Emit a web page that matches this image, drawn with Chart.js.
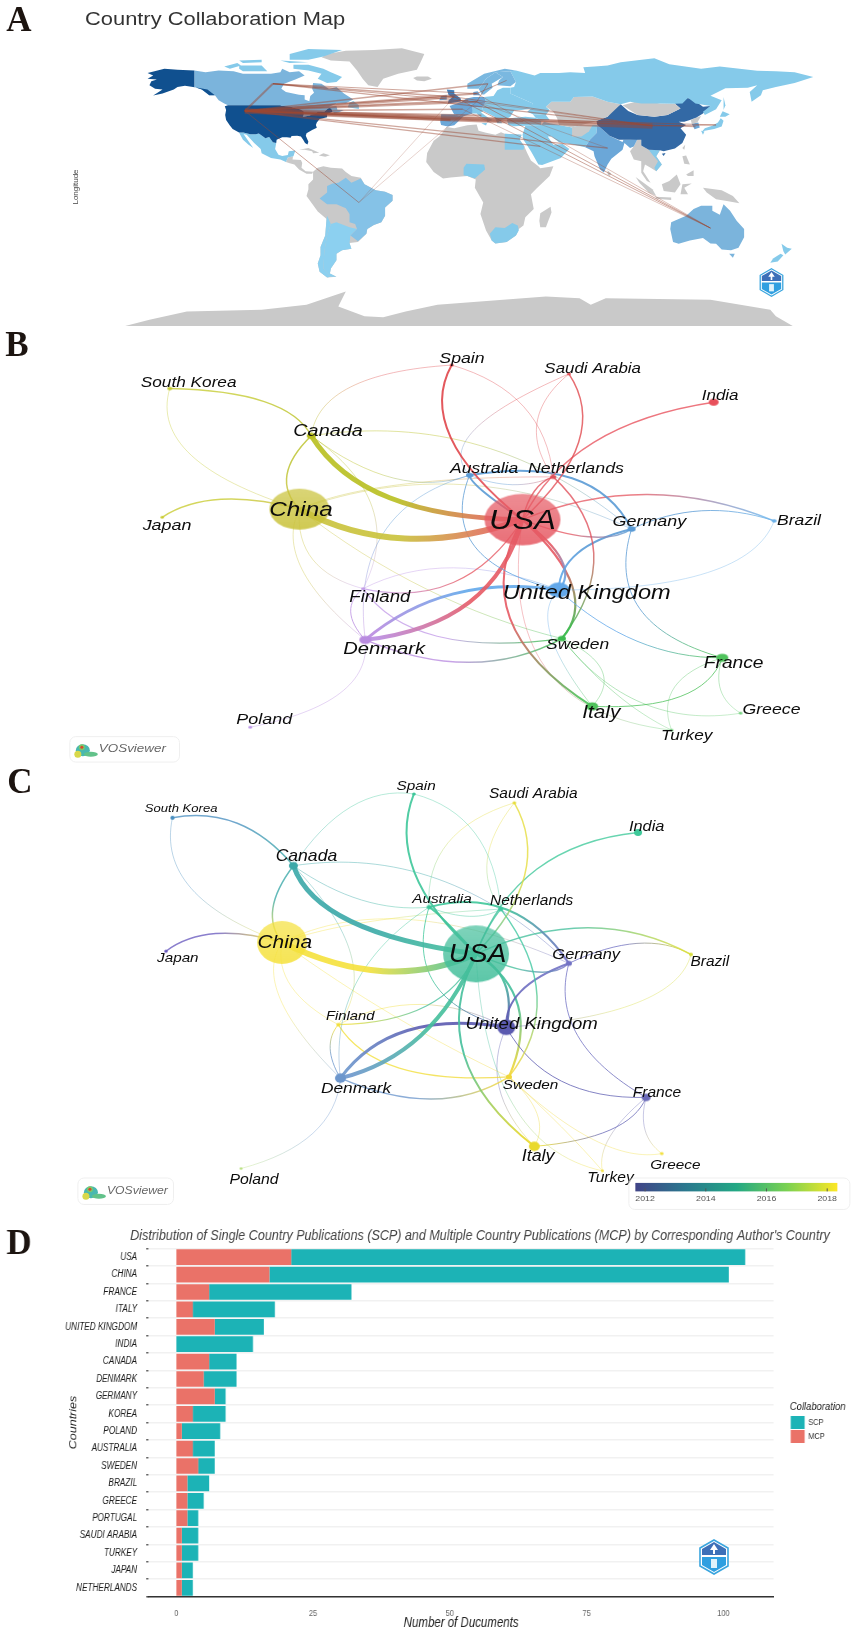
<!DOCTYPE html>
<html>
<head>
<meta charset="utf-8">
<title>Country collaboration figure</title>
<script src="https://cdn.jsdelivr.net/npm/chart.js@4/dist/chart.umd.min.js"></script>
<style>
  html, body { margin:0; padding:0; background:#fff; }
  #page { position:relative; width:851px; height:1646px; overflow:hidden; }
  #page canvas, #page svg { position:absolute; left:0; }
  /* panel D of the source is squeezed sideways: draw wider, then compress */
  #barChart { transform:scaleX(.82); transform-origin:0 0; }
</style>
</head>
<body>
<div id="page">
  <canvas id="mapChart" width="851" height="326" style="top:0px"></canvas>
  <canvas id="netB" width="851" height="450" style="top:320px"></canvas>
  <canvas id="netC" width="851" height="475" style="top:740px"></canvas>
  <canvas id="barChart" width="1038" height="431" style="top:1215px"></canvas>
  <svg style="left:757px;top:268px" width="29" height="29" viewBox="0 0 30 36"><use href="#seal"/></svg>
  <svg style="left:698px;top:1539px" width="32" height="36" viewBox="0 0 30 36">
    <defs><g id="seal">
      <polygon points="15,1 29,9 29,27 15,35 1,27 1,9" fill="#fff" stroke="#3aa5de" stroke-width="1.6"/>
      <polygon points="15,3 27,10 27,16 3,16 3,10" fill="#3d70b8"/>
      <polygon points="3,18 27,18 27,26 15,33 3,26" fill="#2f9fe0"/>
      <polygon points="15,5 19,11 16,11 16,15 14,15 14,11 11,11" fill="#fff"/>
      <rect x="12" y="20" width="6" height="9" fill="#dff2fb"/>
    </g></defs>
    <use href="#seal"/>
  </svg>
</div>

<script>
// --- panel D: documents per corresponding author country ---
const countries = ['USA','CHINA','FRANCE','ITALY','UNITED KINGDOM','INDIA','CANADA','DENMARK','GERMANY','KOREA','POLAND','AUSTRALIA','SWEDEN','BRAZIL','GREECE','PORTUGAL','SAUDI ARABIA','TURKEY','JAPAN','NETHERLANDS'];
const mcpDocs = [21,17,6,3,7,0,6,5,7,3,1,3,4,2,2,2,1,1,1,1];
const scpDocs = [83,84,26,15,9,14,5,6,2,6,7,4,3,4,3,2,3,3,2,2];
const docTicks = [0,25,50,75,100];

// --- panels B and C: network layout (VOSviewer map units) ---
const nodeNames = ['USA','China','Canada','South Korea','Japan','Spain','Saudi Arabia','India','Australia','Netherlands','Germany','Brazil','United Kingdom','Finland','Denmark','Sweden','France','Italy','Greece','Turkey','Poland'];
const bNodeX = [958,545,567,305,291,827,1044,1312,860,1015,1160,1424,1025,663,667,1031,1328,1087,1362,1234,454];
const bNodeY = [597,565,340,195,590,123,150,237,461,466,626,601,813,809,966,962,1021,1170,1191,1243,1234];
const bNodeSize = [38,30,4.5,2.5,1.8,2,2,5,3.5,3,4,2.5,11,2,6,4,6,6,1.8,1.8,2];
const cNodeX = [872,513,534,310,298,757,943,1172,785,918,1044,1270,928,617,621,933,1187,980,1216,1106,437];
const cNodeY = [640,605,370,223,632,150,177,268,497,503,669,642,865,857,1021,1017,1080,1230,1252,1305,1298];
const cNodeSize = [33,25,4.5,2.2,1.8,1.8,1.8,4,2.5,2.5,3,2,9,2,5.5,3,4.5,5.5,1.8,1.5,1.5];
const bClusterColors = ['#e65a64','#c9c23a','#b8bf20','#c5cb30','#c8cb30','#e0464b','#e0464b','#e8505b','#5b9bd5','#e0505b','#5b9bd5','#6db1e8','#62a8ea','#c39ce8','#b98be0','#3dbb4f','#4fc25c','#4fc25c','#6fd07a','#6fd07a','#b890e6'];
const cYearColors = ['#45bf9c','#f5e13c','#3aa8a8','#4a8fc0','#6a5bbf','#3ec79a','#e5dc3a','#3ec99a','#3ec79a','#3ec7a0','#7272c4','#d6dc3a','#5b5ab0','#f2df3a','#6c96cc','#f0d73a','#6a6ab8','#e9d92c','#f2e040','#f2e040','#b8e080'];

// links: pair + strength, then one point on each curve per panel
const linkPairs = [
  ['China','USA',6],['Canada','USA',5],['Canada','China',1.5],['South Korea','Canada',1.5],['South Korea','China',.7],
  ['Japan','China',1.5],['Spain','USA',2],['Spain','Canada',.7],['Spain','Netherlands',.7],['Saudi Arabia','USA',1.5],
  ['Saudi Arabia','Netherlands',.7],['Saudi Arabia','Australia',.7],['India','USA',1.5],['Australia','USA',2],['Australia','Germany',2],
  ['Australia','Netherlands',.8],['Australia','United Kingdom',1],['Australia','Denmark',.8],['Netherlands','USA',1.5],['Netherlands','Sweden',1.5],
  ['USA','Germany',1.5],['USA','Brazil',1.5],['Germany','Brazil',1],['Brazil','United Kingdom',.7],['Germany','United Kingdom',2],
  ['Germany','France',1],['United Kingdom','France',1],['USA','United Kingdom',2.2],['USA','Sweden',2.2],['USA','Italy',2],
  ['USA','Denmark',4],['United Kingdom','Denmark',3],['USA','Finland',1.2],['Finland','United Kingdom',.8],['Finland','Sweden',1.2],
  ['Denmark','Finland',1],['Denmark','Sweden',1.5],['Denmark','Poland',.7],['China','Finland',.7],['China','Denmark',.7],
  ['China','Sweden',.7],['China','Germany',.7],['China','Netherlands',.7],['Canada','Finland',.7],['Canada','Germany',.8],
  ['Canada','Australia',.8],['Sweden','Italy',.7],['Sweden','Turkey',.7],['USA','Turkey',.7],['Sweden','Greece',.7],
  ['France','Italy',1],['France','Turkey',.7],['France','Greece',.7],['United Kingdom','Italy',.7]
];
const bLinkCurve = [[740,655],[712,530],[522,460],[480,235],[345,400],[400,535],[825,345],[640,190],[960,250],[1062,360],[985,300],[870,320],[1090,360],[885,510],[1050,470],[940,490],[870,680],[700,640],[980,510],[1090,700],[1080,650],[1190,520],[1290,570],[1300,760],[1060,700],[1175,870],[1170,970],[1030,720],[1050,800],[935,900],[860,850],[830,825],[830,790],[830,745],[800,955],[640,880],[860,1035],[620,1130],[570,720],[550,750],[780,810],[850,490],[730,490],[680,560],[880,370],[720,470],[1105,1060],[1130,1130],[1000,1050],[1180,1160],[1250,1140],[1240,1110],[1325,1120],[1010,950]];
const cLinkCurve = [[700,693],[640,540],[496,500],[430,240],[345,440],[390,578],[758,390],[640,190],[870,270],[962,400],[893,350],[820,300],[985,380],[815,540],[930,505],[860,525],[795,730],[650,730],[895,560],[985,770],[980,695],[1080,560],[1170,608],[1170,790],[955,755],[1060,890],[1030,1030],[925,730],[950,800],[850,950],[770,890],[745,875],[780,800],[770,795],[730,990],[602,930],[790,1085],[570,1190],[530,740],[510,780],[720,830],[750,535],[680,540],[640,640],[800,410],[660,475],[985,1130],[1030,1170],[940,1100],[1090,1210],[1120,1180],[1120,1200],[1185,1180],[915,1050]];

const bLabelX = [958,548,598,340,300,846,1088,1324,887,1057,1193,1470,1077,694,702,1060,1349,1104,1419,1262,480];
const bLabelY = [603,567,325,177,617,104,134,219,441,442,605,602,824,836,995,982,1039,1190,1181,1262,1210];
const bLabelFont = [27.5,20.6,16.8,14.6,15.2,15,14.3,14.4,14.9,15.1,15.2,14.9,20,15.8,17.1,14.8,16.3,17.6,15,14.6,15.2];
const cLabelX = [875,518,558,326,320,761,978,1188,809,975,1076,1305,975,639,650,973,1207,987,1241,1121,461];
const cLabelY = [645,607,343,195,653,125,151,251,473,480,643,667,857,830,1052,1044,1066,1260,1288,1328,1332];
const cLabelFont = [25,18.7,15.7,11.7,13.6,13.7,13.8,14.6,13.7,13.8,14.7,13.8,16.6,13.2,15.5,13.7,13.9,16,13.7,13.9,14.1];
const yearTicks = [2012,2014,2016,2018];

// --- panel A: collaboration map, lon/lat ---
const collabNames = ['USA','Canada','Brazil','Australia','China','Japan','Korea','Saudi','India','UK','Germany','France','Spain','Italy','Sweden','Finland','Denmark','Netherlands','Greece','Turkey'];
const collabLon = [-114,-99,-53,135,104,138,127,44,80,-2,10,2.5,-4,12.5,16,26,10,5.5,22,35];
const collabLat = [45.5,62,-10,-25.5,36.4,37,36,24,23,54,51,46.5,40,42.8,62,64,56,52,39,39];
const collabLinks = [['USA','China',5.5],['USA','UK',2.5],['USA','Germany',2],['USA','Canada',2],['USA','France',1.5],['USA','Spain',2.5],['USA','Italy',2],['USA','Denmark',2],['USA','Sweden',1.5],['USA','Saudi',1.2],['USA','Greece',1],['USA','India',1.2],['USA','Turkey',1],['USA','Brazil',1],['USA','Netherlands',1.5],['USA','Japan',1],['USA','Korea',1.2],['Germany','Australia',1],['UK','Australia',1],['Denmark','Australia',.7],['France','Australia',.7],['Canada','UK',1.5],['Canada','Germany',1],['Canada','Denmark',1],['Canada','China',1.2],['China','UK',1],['China','Germany',.7],['China','Japan',1],['Brazil','UK',.5],['Brazil','Germany',.5],['Germany','India',.6],['Finland','Denmark',1],['Germany','Sweden',1]];

const greenland = [[-73,78],[-68,76],[-58,75.5],[-54,70],[-51,65],[-48,61],[-43,60],[-40,65],[-32,68],[-22,70.5],[-20,75],[-18,80],[-30,83.5],[-45,82.5],[-60,82],[-70,80]];
const iceland = [[-24,65.5],[-22,64],[-18,63.5],[-14,65],[-16,66.4],[-22,66.3]];
const usa48 = [[-124.7,48.4],[-123,49],[-95,49],[-94.6,48.7],[-92,48.3],[-89.5,48],[-88,47.5],[-84.5,46.5],[-82.5,45.3],[-82.5,43],[-83,42],[-79,42.8],[-79,43.3],[-76.5,43.6],[-75,45],[-71.5,45],[-70,46.5],[-69,47.3],[-67.8,47],[-67,45],[-70,43.7],[-70,41.7],[-74,40.6],[-75.5,38.5],[-76,36.9],[-75.5,35.3],[-78,33.9],[-81,32],[-81.4,30.5],[-80,26.8],[-80.5,25.2],[-81.8,26],[-82.8,28],[-84,30],[-86,30.4],[-89,30.3],[-89.5,29.2],[-91.5,29.5],[-94,29.6],[-97,28],[-97.2,26],[-99,26.5],[-101,29.7],[-103,29],[-104.8,30.5],[-106.5,31.8],[-108.2,31.4],[-111,31.3],[-114.8,32.5],[-117.1,32.5],[-120.5,34.5],[-122,36.6],[-124,40],[-124.5,43],[-124,46]];
const alaska = [[-141,70],[-141,60],[-137,58.5],[-133,55],[-130,55],[-134,58.5],[-140,59.7],[-146,60.8],[-150,60],[-152,58.5],[-158,56],[-163,54.8],[-158,58.5],[-162,59],[-165,61],[-164,63.5],[-161,64.5],[-166,65],[-163,67],[-166,68.5],[-157,71],[-150,70.5]];
const canada = [[-141,70],[-135,69],[-128,70],[-120,69.5],[-115,68],[-108,68],[-100,68],[-95,69],[-94,71],[-90,69],[-85,69.5],[-82,67],[-87,64.5],[-93,62],[-94.5,59],[-92,57],[-85,55.3],[-82,55],[-82,52.5],[-79.5,51.3],[-79,54.5],[-77,56.5],[-78,59],[-77.5,62.4],[-73,62],[-69,58.8],[-65,60],[-61,56],[-56,52.5],[-60,50.2],[-65,50],[-69,48],[-65,48.5],[-64.5,46.2],[-61,46],[-64,44.5],[-66,44],[-67,45],[-67.8,47],[-69,47.3],[-70,46.5],[-71.5,45],[-75,45],[-76.5,43.6],[-79,43.3],[-79,42.8],[-83,42],[-82.5,43],[-82.5,45.3],[-84.5,46.5],[-88,47.5],[-89.5,48],[-92,48.3],[-94.6,48.7],[-95,49],[-123,49],[-125,50],[-128,52],[-130,55],[-133,55],[-137,58.5],[-141,60]];
const baffin = [[-80,73.5],[-72,71],[-68,69],[-62,66],[-65,63],[-70,62.5],[-75,65],[-73,68],[-80,70],[-88,71],[-88,73.5]];
const victoriaIs = [[-117,73],[-105,73],[-102,69.5],[-115,69.5],[-117,71]];
const ellesmere = [[-90,80],[-80,83],[-62,82.5],[-72,78.5],[-80,76.5],[-90,76.5]];
const banksIs = [[-125,72.5],[-118,74.5],[-116,73],[-122,71]];
const devonIs = [[-95,76],[-80,75],[-90,74.5]];
const melvilleIs = [[-117,76],[-105,76.5],[-105,75],[-115,74.6]];
const newfoundland = [[-59,47.7],[-53,46.7],[-53,49],[-56,51.5],[-58,50.5]];
const mexico = [[-117.1,32.5],[-114.8,32.5],[-111,31.3],[-108.2,31.4],[-106.5,31.8],[-104.8,30.5],[-103,29],[-101,29.7],[-99,26.5],[-97.2,26],[-97.8,22.5],[-96,19],[-94,18.2],[-91,18.8],[-90.5,21],[-87,21.5],[-88,18],[-91,17.2],[-92,14.6],[-95,16],[-100,17],[-105,19.8],[-105.5,22.5],[-109,26],[-113,31],[-114.7,31.5],[-109.5,23],[-112,25],[-115,28]];
const centralAmerica = [[-92,14.6],[-91,17.2],[-88.2,18],[-88.5,16],[-84,15.8],[-83.3,14],[-83.7,11],[-81.5,9],[-77.5,8.6],[-78,7.5],[-81,7.5],[-85,10],[-87.5,13],[-90,13.8]];
const cuba = [[-85,22],[-80,23],[-74.2,20.2],[-77.5,19.9],[-78,21],[-82,22]];
const hispaniola = [[-74.4,18.5],[-72,19.9],[-68.5,18.6],[-71,17.8]];
const southAmerica = [[-77.5,8.6],[-75,11],[-72,12],[-68,11],[-62,10.6],[-60,8.5],[-57,6],[-52,5],[-50,1],[-44,-2.5],[-39,-3.5],[-35,-5.5],[-35,-9],[-39,-13],[-39,-18],[-41,-22],[-45,-23.6],[-48.5,-26],[-49,-29],[-53.5,-34],[-58,-34.5],[-57,-38],[-62,-39],[-65,-41],[-65,-45],[-68,-50],[-68.5,-53],[-65,-55],[-70,-55.5],[-74,-52],[-75,-47],[-73.5,-42],[-73.5,-37],[-71,-30],[-70.3,-20],[-75,-15.5],[-81,-6],[-80,-2],[-80,1],[-77.5,4],[-77.5,7]];
const brazil = [[-60,5],[-57,2],[-52,4.5],[-50,1],[-44,-2.5],[-39,-3.5],[-35,-5.5],[-35,-9],[-39,-13],[-39,-18],[-41,-22],[-45,-23.6],[-48.5,-26],[-49,-29],[-53.5,-33.5],[-57.5,-30],[-54,-26],[-55,-23],[-58,-22],[-58,-17],[-60,-13.5],[-65,-11],[-70,-11],[-74,-7.5],[-70,-4],[-70,0],[-67,1.5],[-64,2]];
const argentina = [[-65,-22],[-58,-25],[-54,-26],[-57.5,-30],[-58,-34.5],[-57,-38],[-62,-39],[-65,-41],[-65,-45],[-68,-50],[-68.5,-53],[-65,-55],[-68,-55],[-72,-50],[-71.5,-40],[-70,-30],[-68,-23]];
const chile = [[-70,-18],[-68,-23],[-70,-30],[-71.5,-40],[-72,-50],[-68,-55],[-70,-55.5],[-74,-52],[-75,-47],[-73.5,-42],[-73.5,-37],[-71,-30],[-70.3,-20]];
const africa = [[-6,35.8],[-2,35],[5,36.8],[10,37.3],[11,33.5],[15,32.3],[20,31],[23,32.6],[25,31.6],[32,31.2],[34,31],[33,28],[35.5,24],[37,20],[39,15.5],[43,12],[44,10.7],[51,12],[49,6],[42,-1.5],[39,-5],[40.5,-14],[36,-19],[35,-24],[32.5,-26],[31,-30],[26,-34],[20,-34.8],[18,-33],[15,-27],[12,-17],[13.5,-10],[9,-1],[9.5,4],[5,6],[-4,5.2],[-8,4.5],[-13,8.5],[-17,14.5],[-16.5,20],[-13,27.5],[-10,30]];
const egypt = [[25,31.6],[32,31.2],[34,31],[33,28],[35.5,24],[35,22],[25,22]];
const nigeria = [[3,6.5],[3,11],[4.5,13.5],[14,13],[14.5,10],[9,4.5],[5,6]];
const southAfrica = [[17,-29],[20,-25],[25,-25.5],[29,-22.5],[32,-24],[32.5,-27],[31,-30],[26,-34],[20,-34.8],[18,-33]];
const madagascar = [[44,-16.5],[49.5,-12.5],[50,-16],[47,-25],[44,-25],[43.5,-21]];
const spain = [[-9,43.5],[-2,43.4],[3,42.3],[0,39],[-2,36.8],[-5.5,36],[-9,37],[-9.5,39]];
const france = [[-4.5,48.5],[2,51],[8,49],[7.5,44],[3,42.3],[-2,43.4]];
const britain = [[-5.5,50],[1.5,51.2],[1.5,53],[-2,56],[-2,58],[-6,58.5],[-5,55],[-3,54],[-5,52]];
const ireland = [[-10,52],[-6,52.2],[-6,55],[-9,54.5]];
const germany = [[2,51],[4.5,53],[8.5,54],[14,54],[15,51],[13,47.7],[8,47.7],[8,49]];
const denmark = [[8.2,55],[8.2,57],[10.5,57.5],[12,55]];
const norway = [[5,59],[5,62],[14,68],[25,71],[31,70],[28,69.5],[20,69],[15,65],[12.5,61],[11,59]];
const sweden = [[11,59],[12.5,61],[15,65],[20,69],[24,66],[18,62],[18.5,59.5],[14,55.5],[12.8,55.5]];
const finland = [[21,61],[22,64],[24,66],[20,69],[28,69.5],[31,63],[28,60.5]];
const easternEurope = [[14,54],[19,54.5],[21,58],[24,59.5],[28,59.5],[28,56],[40,50],[40,47],[34,46],[30,45.8],[28,42],[26,40.8],[23,40],[23.5,38],[21,38],[19.5,42],[13.5,45.5],[13,47.7],[15,51]];
const italy = [[7,44],[8,47.7],[13,47.7],[13.5,45.5],[12.3,44.5],[16,41.5],[18.5,40],[16,39],[16,38],[15.5,40],[12,42],[10,44]];
const sicily = [[12.5,38],[15.5,38.2],[15,36.7]];
const turkey = [[26,40.5],[29,41.2],[36,42],[41.5,41.3],[44.5,39.5],[44.5,37],[36,36.5],[30,36.2],[27,37]];
const caucasus = [[40,43.5],[47,43],[49,40],[44.5,39.5],[41.5,41.3]];
const russia = [[28,59.5],[30,60],[31,63],[28,69.5],[31,70],[41,67],[44,68.5],[54,68.5],[60,69],[68,68.5],[67,72],[73,72.5],[80,73],[87,75],[105,77.5],[113,73.8],[130,71],[140,72.5],[160,69.8],[170,69.5],[180,69],[190,66],[180,62.5],[170,60],[163,58],[162,55],[157,51],[156,57],[160,61],[155,59.5],[143,59.3],[135,54.7],[141,52],[138,46.5],[132,43],[131,45],[135,48.5],[127,50],[123,53.5],[120,50],[116,49.8],[108,50],[98,50],[92,51],[87,49.5],[80,51],[72,54.3],[62,54],[60,51],[50,51],[47,48],[49,46],[47,43],[40,43.5],[37,45],[39,47],[40,50],[28,56]];
const sakhalin = [[142,54],[143,49],[142,46],[142,50]];
const kazakhstan = [[50,51],[60,51],[62,54],[72,54.3],[80,51],[87,49.5],[80,42],[73,39],[66,37],[61,35.5],[54,37],[53,41],[51,45],[47,48]];
const mongolia = [[88,49],[98,52],[108,50],[116,49.8],[119,47],[112,43],[105,42],[96,43]];
const china = [[74,39.5],[80,42],[82,45.5],[87,49.5],[91,45.5],[96,43],[105,42],[112,43],[119,47],[116,49.8],[120,53.5],[125,53],[131,48],[135,48.5],[131,44],[127.5,41.5],[124,40],[121,39],[118,39],[122,37],[119,35],[122,31],[120,26],[116,22.8],[110,21],[108,21.7],[102,22],[98,24.5],[98,28],[92,28],[86,28],[81,30.5],[78.5,33],[74.5,37]];
const hainan = [[109,19.5],[111,20],[110,18.2]];
const northKorea = [[124.5,40],[127.5,41.5],[130,42.5],[128,38.5],[125,37.8]];
const southKorea = [[125,37.8],[128.5,38.5],[129.3,35.5],[126.5,34.4]];
const honshu = [[130.5,33],[132,35],[136,36.5],[139,38.5],[140.5,41],[142,39.5],[141,36],[137,34.6],[132,33.5]];
const hokkaido = [[140,42],[141.5,45.3],[145.3,43.5],[143,42]];
const kyushu = [[130,33.5],[131.8,33],[131,31]];
const india = [[68,23.5],[70.5,28],[74,32],[74.5,37],[78.5,33],[81,30.5],[88,26.7],[88.5,28],[92,28],[96,28.5],[94,24],[92,23],[89,26],[88,22],[82,16.5],[80,13],[78,8.2],[76,10],[73,18],[72.5,21]];
const middleEast = [[36,36.5],[44.5,37],[46,39],[49,38],[54,37],[61,35.5],[66,37],[74.5,37],[74,32],[70.5,28],[68,23.5],[62,25],[57,26],[54,26.5],[50,30],[48,30],[51,25],[56,25.5],[59.5,22.5],[55,17],[45,12.8],[43,13],[39,21],[35,28],[34.5,31]];
const afghanistan = [[61,35.5],[66,37],[72,37],[70,33],[66,30],[61,30]];
const southeastAsia = [[92,21],[94,24],[96,28.5],[98,28],[98,24.5],[102,22],[108,21.7],[106,18],[109,13],[106,9],[103,11],[100,13],[99,9],[103,2],[101,3],[98,8],[98,15],[94,16]];
const vietnam = [[102,22],[108,21.7],[106,18],[109,13],[106,9],[105,11],[107,15],[104,19]];
const sumatra = [[95,5.5],[104,-2],[106,-6],[102,-4],[97,2]];
const borneo = [[109,1],[113,3],[117,7],[119,1],[116,-4],[110,-3]];
const java = [[105.5,-6.5],[114,-7],[114,-8.5],[106,-7.7]];
const sulawesi = [[119,-5],[120,1],[125,1.5],[121,-1],[123,-5]];
const newGuinea = [[131,-1],[141,-2.5],[147,-6],[150.5,-10.5],[143,-9],[138,-8],[133,-4]];
const luzon = [[120,18],[122,18.5],[124,13],[121,13.5]];
const mindanao = [[122,7],[126,9.5],[126,6],[123,6]];
const taiwan = [[120,23],[121.5,25],[121,22]];
const sriLanka = [[80,9.5],[82,7.5],[81,6],[80,7]];
const australia = [[114,-22],[122,-18],[126,-14],[130,-12],[136,-12],[136,-15],[140,-17.5],[142,-11],[145.5,-15],[149,-21],[153,-26],[153,-31],[150,-37.5],[146,-39],[141,-38.5],[138,-35],[135,-34.8],[131,-31.5],[124,-33],[118,-35],[115,-34],[113.5,-26]];
const tasmania = [[145,-41],[148,-41],[147,-43.5]];
const nzNorth = [[173,-35],[176,-37.5],[178.5,-38],[175,-41.5],[174,-39.5]];
const nzSouth = [[172.5,-41],[174,-42],[171,-45.8],[167,-46.5],[168.5,-44]];
const antarctica = [[-178,-84.8],[-165,-81],[-145,-76],[-105,-75],[-81,-72],[-60,-64],[-64,-73],[-50,-79],[-40,-79.5],[-28,-76],[-11,-72],[47,-67],[65,-68],[71,-72],[79,-68],[135,-69],[167,-75],[170,-79],[179,-84.8]];

const DARK = '#10508f', CHINA_BLUE = '#3369a5', CANADA_BLUE = '#7bb4dc', MID = '#6ba7d8', LIGHT = '#85caea', GRAY = '#c9c9c9';
// earlier entries end up on top
const mapShapes = [
  [britain,'#3f7fbd'],[ireland,MID],[denmark,MID],[germany,MID],[france,MID],[spain,MID],[italy,LIGHT],[sicily,LIGHT],[norway,'#7ab8e0'],[sweden,'#7ab8e0'],[finland,'#7ab8e0'],
  [turkey,LIGHT],[caucasus,LIGHT],[easternEurope,LIGHT],[sakhalin,LIGHT],[russia,LIGHT],[kazakhstan,GRAY],[mongolia,GRAY],
  [hainan,CHINA_BLUE],[china,CHINA_BLUE],[northKorea,GRAY],[southKorea,MID],[honshu,LIGHT],[hokkaido,LIGHT],[kyushu,LIGHT],
  [afghanistan,GRAY],[india,MID],[middleEast,LIGHT],[vietnam,LIGHT],[southeastAsia,GRAY],
  [sumatra,GRAY],[borneo,GRAY],[java,GRAY],[sulawesi,GRAY],[newGuinea,GRAY],[luzon,GRAY],[mindanao,GRAY],[taiwan,GRAY],[sriLanka,GRAY],
  [australia,CANADA_BLUE],[tasmania,CANADA_BLUE],[nzNorth,LIGHT],[nzSouth,LIGHT],
  [usa48,DARK],[alaska,DARK],[canada,CANADA_BLUE],[baffin,LIGHT],[victoriaIs,LIGHT],[ellesmere,LIGHT],[banksIs,LIGHT],[devonIs,LIGHT],[melvilleIs,LIGHT],[newfoundland,LIGHT],
  [mexico,LIGHT],[centralAmerica,GRAY],[cuba,GRAY],[hispaniola,GRAY],[greenland,GRAY],[iceland,GRAY],
  [brazil,'#85c2e7'],[argentina,'#8cd0f0'],[chile,'#8cd0f0'],[southAmerica,GRAY],
  [egypt,LIGHT],[nigeria,LIGHT],[southAfrica,LIGHT],[africa,GRAY],[madagascar,GRAY],[antarctica,GRAY]
];

// --- helpers ---
function toPoints(pairs){ return pairs.map(p => ({x:p[0], y:p[1]})); }

// the source figure is stretched sideways, so text needs a horizontal scale too
function drawText(ctx, str, x, y, font, color, stretch, align){
  ctx.save();
  ctx.translate(x, y);
  ctx.scale(stretch || 1, 1);
  ctx.font = font;
  ctx.fillStyle = color;
  ctx.textAlign = align || 'center';
  ctx.textBaseline = 'middle';
  ctx.fillText(str, 0, 0);
  ctx.restore();
}

function panelLetter(ctx, letter, x, y, stretch){
  drawText(ctx, letter, x, y, 'bold 35px "Liberation Serif"', '#1c1410', stretch || 1);
}

function nodeSprite(color, rx, ry){
  const c = document.createElement('canvas');
  c.width = Math.ceil(rx*2+2); c.height = Math.ceil(ry*2+2);
  const g = c.getContext('2d');
  const grad = g.createLinearGradient(0, 0, 0, c.height);
  grad.addColorStop(0, color + (rx > 15 ? 'b0' : 'ff'));
  grad.addColorStop(1, color + (rx > 15 ? 'e0' : 'ff'));
  g.fillStyle = grad;
  g.beginPath();
  g.ellipse(c.width/2, c.height/2, rx, ry, 0, 0, Math.PI*2);
  g.fill();
  return c;
}

function linkColor(fromColor, toColor, a, b, weight){
  const alpha = weight <= .8 ? '88' : weight <= 1.5 ? 'c8' : 'e6';
  return function(ctx){
    const chart = ctx.chart;
    if(!chart.chartArea) return fromColor + alpha;
    const X = chart.scales.x, Y = chart.scales.y;
    const g = chart.ctx.createLinearGradient(X.getPixelForValue(a.x), Y.getPixelForValue(a.y), X.getPixelForValue(b.x), Y.getPixelForValue(b.y));
    g.addColorStop(.45, fromColor + alpha);
    g.addColorStop(.95, toColor + alpha);
    return g;
  };
}

// VOSviewer links are plain arcs: reshape the line's bezier handles so each
// link bends one way only and still runs through its three data points
const arcLinks = {
  id:'arcLinks',
  beforeDatasetsDraw(chart){
    chart.data.datasets.forEach((ds, i) => {
      if(i === 0) return;
      const meta = chart.getDatasetMeta(i);
      meta.dataset.updateControlPoints(chart.chartArea, 'x');
      const [p0, pm, p2] = meta.data;
      const cx = 2*pm.x - (p0.x+p2.x)/2, cy = 2*pm.y - (p0.y+p2.y)/2;
      const q1x = (p0.x+cx)/2, q1y = (p0.y+cy)/2, q2x = (cx+p2.x)/2, q2y = (cy+p2.y)/2;
      p0.cp2x = p0.x + (q1x-p0.x)*2/3; p0.cp2y = p0.y + (q1y-p0.y)*2/3;
      pm.cp1x = pm.x + (q1x-pm.x)*2/3; pm.cp1y = pm.y + (q1y-pm.y)*2/3;
      pm.cp2x = pm.x + (q2x-pm.x)*2/3; pm.cp2y = pm.y + (q2y-pm.y)*2/3;
      p2.cp1x = p2.x + (q2x-p2.x)*2/3; p2.cp1y = p2.y + (q2y-p2.y)*2/3;
    });
  }
};

function miniLogo(ctx, x, y){
  const blobs = [[0,1,7,6,'#49b8b0'],[8,5,7,2.5,'#62c28a'],[-5,5,3.5,3.5,'#d8d84a'],[-1,-2,3,3,'#7cc96a'],[-1,-2,1.5,1.5,'#d9482e']];
  blobs.forEach(b => {
    ctx.fillStyle = b[4];
    ctx.beginPath();
    ctx.ellipse(x+b[0], y+b[1], b[2], b[3], 0, 0, Math.PI*2);
    ctx.fill();
  });
}

function networkChart(id, cfg){
  const nodeAt = name => {
    const i = nodeNames.indexOf(name);
    return {x:cfg.nodeX[i], y:cfg.nodeY[i]};
  };
  const sprites = nodeNames.map((n,i) => nodeSprite(cfg.colors[i], cfg.size[i], cfg.size[i]*cfg.ratio));
  const datasets = [{
    data: nodeNames.map((n,i) => ({x:cfg.nodeX[i], y:cfg.nodeY[i]})),
    pointStyle: ctx => sprites[ctx.dataIndex] || 'circle',
    pointRadius: 4,
    showLine: false
  }];
  linkPairs.forEach((l,i) => {
    const a = nodeAt(l[0]), b = nodeAt(l[1]);
    const via = cfg.curve[i];
    datasets.push({
      data: [a, {x:via[0], y:via[1]}, b],
      showLine: true,
      tension: .5,
      pointRadius: 0,
      borderWidth: l[2],
      borderColor: linkColor(cfg.colors[nodeNames.indexOf(l[0])], cfg.colors[nodeNames.indexOf(l[1])], a, b, l[2])
    });
  });
  const textPlugin = {
    id: 'networkText',
    afterDatasetsDraw(chart){
      const c = chart.ctx, X = chart.scales.x, Y = chart.scales.y;
      nodeNames.forEach((n,i) => {
        drawText(c, n, X.getPixelForValue(cfg.labelX[i]), Y.getPixelForValue(cfg.labelY[i]), `italic ${cfg.labelFont[i]}px "Liberation Sans"`, '#0c0c0c', cfg.stretch);
      });
      const b = cfg.badge;
      const bx = X.getPixelForValue(b[0]), by = Y.getPixelForValue(b[1]), bw = X.getPixelForValue(b[2])-bx, bh = Y.getPixelForValue(b[3])-by;
      c.strokeStyle = '#efefef'; c.lineWidth = 1;
      c.beginPath(); c.roundRect(bx, by, bw, bh, 6); c.stroke();
      miniLogo(c, bx+13, by+bh/2);
      drawText(c, 'VOSviewer', bx+29, by+bh/2, `italic ${cfg.badgeFont}px "Liberation Sans"`, '#666', 1.22, 'left');
      panelLetter(c, cfg.letter, cfg.letterAt[0], cfg.letterAt[1]);
      if(cfg.afterText) cfg.afterText(chart);
    }
  };
  return new Chart(document.getElementById(id), {
    type:'scatter',
    data:{datasets},
    options:{
      responsive:false, animation:false,
      layout:{padding:0},
      plugins:{legend:{display:false}, tooltip:{enabled:false}},
      scales:{
        x:{type:'linear', display:false, min:0, max:1557},
        y:{type:'linear', display:false, min:0, max:cfg.yMax, reverse:true}
      }
    },
    plugins:[arcLinks, textPlugin]
  });
}

// --- panel A ---
function collabAt(name){
  const i = collabNames.indexOf(name);
  return {x:collabLon[i], y:collabLat[i]};
}
new Chart(document.getElementById('mapChart'), {
  type:'scatter',
  data:{datasets:[
    ...collabLinks.map(l => ({
      data:[collabAt(l[0]), collabAt(l[1])],
      showLine:true, pointRadius:0,
      borderWidth:l[2],
      borderColor:'rgba(155,72,50,.48)'
    })),
    ...mapShapes.map(s => ({
      data:toPoints(s[0]),
      showLine:true, pointRadius:0, borderWidth:0,
      fill:'shape',
      backgroundColor:s[1]
    }))
  ]},
  options:{
    responsive:false, animation:false,
    layout:{padding:0},
    plugins:{legend:{display:false}, tooltip:{enabled:false}},
    scales:{
      x:{type:'linear', display:false, min:-244.92, max:210.16},
      y:{type:'linear', display:false, min:-84.85, max:112.73}
    }
  },
  plugins:[{
    id:'mapText',
    afterDatasetsDraw(chart){
      const c = chart.ctx;
      panelLetter(c, 'A', 19, 22);
      drawText(c, 'Country Collaboration Map', 85, 20, '17.5px "Liberation Sans"', '#333', 1.25, 'left');
      c.save();
      c.translate(76, 187); c.rotate(-Math.PI/2);
      drawText(c, 'Longitude', 0, 0, '8px "Liberation Sans"', '#444', 1);
      c.restore();
    }
  }]
});

// --- panel B ---
networkChart('netB', {
  nodeX:bNodeX, nodeY:bNodeY, size:bNodeSize, colors:bClusterColors, ratio:.68, curve:bLinkCurve,
  labelX:bLabelX, labelY:bLabelY, labelFont:bLabelFont, stretch:1.18,
  yMax:1350, badge:[120,1263,323,1341], badgeFont:11, letter:'B', letterAt:[17,27]
});

// --- panel C ---
networkChart('netC', {
  nodeX:cNodeX, nodeY:cNodeY, size:cNodeSize, colors:cYearColors, ratio:.86, curve:cLinkCurve,
  labelX:cLabelX, labelY:cLabelY, labelFont:cLabelFont, stretch:1.12,
  yMax:1425, badge:[135,1327,312,1408], badgeFont:10, letter:'C', letterAt:[20,44],
  afterText(chart){
    const c = chart.ctx, X = chart.scales.x, Y = chart.scales.y;
    const x0 = X.getPixelForValue(1167), x1 = X.getPixelForValue(1541), y0 = Y.getPixelForValue(1342), y1 = Y.getPixelForValue(1368);
    c.strokeStyle = '#efefef'; c.lineWidth = 1;
    c.beginPath(); c.roundRect(X.getPixelForValue(1155), Y.getPixelForValue(1327), X.getPixelForValue(400), Y.getPixelForValue(81), 6); c.stroke();
    const g = c.createLinearGradient(x0, 0, x1, 0);
    ['#414487','#2a788e','#22a884','#7ad151','#fde725'].forEach((col,i) => g.addColorStop(i/4, col));
    c.fillStyle = g;
    c.fillRect(x0, y0, x1-x0, y1-y0);
    yearTicks.forEach(yr => {
      const px = X.getPixelForValue(1185 + (yr-2012)*56.2);
      c.strokeStyle = '#555';
      c.beginPath(); c.moveTo(px, y1-3); c.lineTo(px, y1); c.stroke();
      drawText(c, String(yr), px, Y.getPixelForValue(1392), '8px "Liberation Sans"', '#555', 1.1);
    });
  }
});

// --- panel D ---
const SQUEEZE = .82;
new Chart(document.getElementById('barChart'), {
  type:'bar',
  data:{
    labels:countries,
    datasets:[
      {label:'MCP', data:mcpDocs, backgroundColor:'#ea7268'},
      {label:'SCP', data:scpDocs, backgroundColor:'#1cb3b6'}
    ]
  },
  options:{
    indexAxis:'y',
    responsive:false, animation:false,
    categoryPercentage:.9, barPercentage:1,
    layout:{padding:{left:63/SQUEEZE, top:33.5, bottom:14, right:42}},
    plugins:{
      tooltip:{enabled:false},
      legend:{
        position:'right',
        fullSize:false,
        title:{display:true, position:'start', text:'Collaboration', color:'#222', padding:{top:0,bottom:0}, font:{family:'"Liberation Sans"', style:'italic', size:11.5}},
        labels:{
          boxWidth:17, boxHeight:13, padding:1, color:'#333',
          font:{family:'"Liberation Sans"', size:9},
          sort:(a,b) => b.datasetIndex - a.datasetIndex
        }
      }
    },
    scales:{
      x:{
        stacked:true, min:-5.08, max:109.2,
        afterBuildTicks(s){ s.ticks = docTicks.map(v => ({value:v})); },
        afterFit(s){ s.height = 35.5; },
        grid:{display:false},
        border:{color:'#333', width:1.5},
        ticks:{color:'#666', padding:4, font:{family:'"Liberation Sans"', size:9}},
        title:{display:true, text:'Number of Ducuments', color:'#222', padding:0, font:{family:'"Liberation Sans"', style:'italic', size:14}}
      },
      y:{
        stacked:true,
        afterFit(s){ s.width = (148.6-63)/SQUEEZE; },
        grid:{color:'#f1f1f1', lineWidth:1.5, tickColor:'#666', tickLength:3},
        border:{display:false},
        ticks:{color:'#1a1a1a', padding:11, autoSkip:false, font:{family:'"Liberation Sans"', style:'italic', size:10}},
        title:{display:true, text:'Countries', color:'#222', padding:{top:5,bottom:0}, font:{family:'"Liberation Sans"', style:'italic', size:12.5}}
      }
    }
  },
  plugins:[{
    id:'barText',
    afterLayout(chart){
      // nudge the legend clear of the plot, the layout packs it tight
      const lg = chart.legend, shift = 790.7/SQUEEZE - lg.left - lg.options.labels.padding;
      lg.left += shift;
      lg.right = chart.width;
      lg.legendHitBoxes.forEach(h => { h.left += shift; });
    },
    afterDraw(chart){
      const c = chart.ctx;
      panelLetter(c, 'D', 19/SQUEEZE, 30, 1/SQUEEZE);
      drawText(c, "Distribution of Single Country Publications (SCP) and Multiple Country Publications (MCP) by Corresponding Author's Country", 480/SQUEEZE, 21, 'italic 15.3px "Liberation Sans"', '#444', 1);
    }
  }]
});
</script>
</body>
</html>
